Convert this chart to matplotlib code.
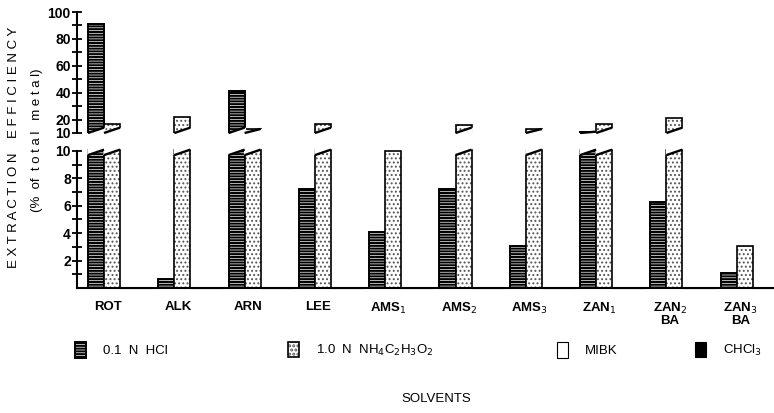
import matplotlib
matplotlib.use('Agg')
import matplotlib.pyplot as plt
from matplotlib.patches import Polygon
from matplotlib.legend_handler import HandlerTuple
import numpy as np

plt.rcParams['font.family'] = ['Liberation Sans', 'DejaVu Sans']
plt.rcParams['hatch.linewidth'] = 1.5

categories = ['ROT', 'ALK', 'ARN', 'LEE', 'AMS$_1$', 'AMS$_2$', 'AMS$_3$',
              'ZAN$_1$', 'ZAN$_2$\nBA', 'ZAN$_3$\nBA']
hcl   = [91, 0.65, 41, 7.2, 4.1, 7.2, 3.1, 11, 6.3, 1.1]
nh4ac = [17, 22, 13, 17, 10, 16, 13, 17, 21, 3.1]
mibk  = [0, 0, 0, 0, 0, 0, 0, 0, 0, 0]
chcl3 = [0, 0, 0, 0, 0, 0, 0, 0, 0, 0]

labels = ['0.1  N  HCl', '1.0  N  NH$_4$C$_2$H$_3$O$_2$', 'MIBK', 'CHCl$_3$']

BREAK = 10
W = 0.228
x = np.arange(len(categories))

fig = plt.figure(figsize=(7.74, 4.13), dpi=100)
ax_hi = fig.add_axes([77/774, 1 - 133/413, 696/774, 121/413])
ax_lo = fig.add_axes([77/774, 1 - 288/413, 696/774, 137/413])

# each series: list of layers (fill layer, outline layer)
styles = [
    [dict(facecolor='white', edgecolor='black', hatch='------', linewidth=1.4)],
    [dict(facecolor='white', edgecolor='#555555', hatch='....', linewidth=0, hlw=0.9),
     dict(fill=False, edgecolor='black', linewidth=1.2)],
    [dict(facecolor='white', edgecolor='black', linewidth=0.8)],
    [dict(facecolor='black', edgecolor='black', linewidth=0.8)],
]
series = [hcl, nh4ac, mibk, chcl3]
offsets = [-0.5, 0.5, 1.5, 2.5]


def draw_bars(ax, xs, hs, layers, **kw):
    out = []
    for st in layers:
        st = dict(st)
        hlw = st.pop('hlw', None)
        bars = ax.bar(xs, hs, W, **st, **kw)
        if hlw is not None:
            for b in bars:
                if hasattr(b, 'set_hatch_linewidth'):
                    b.set_hatch_linewidth(hlw)
        out.append(bars)
    return out


handles = []
for vals, layers, off in zip(series, styles, offsets):
    vals = np.asarray(vals, dtype=float)
    lo_h = np.where(vals > BREAK, BREAK + 0.1, vals)
    drawn = draw_bars(ax_lo, x + off * W, lo_h, layers, zorder=2, clip_on=False)
    handles.append(tuple(drawn) if len(drawn) > 1 else drawn[0])
    # slanted cut at top of bars that continue in the upper panel
    for b, v in zip(drawn[0], vals):
        if v > BREAK:
            x0, w = b.get_x(), b.get_width()
            ax_lo.add_patch(Polygon([(x0 - 0.01, BREAK - 0.3), (x0 - 0.01, BREAK + 0.2),
                                     (x0 + w + 0.01, BREAK + 0.2), (x0 + w, BREAK + 0.1)],
                                    closed=True, facecolor='white', edgecolor='none',
                                    zorder=3, clip_on=False))
            ax_lo.plot([x0, x0 + w], [BREAK - 0.3, BREAK + 0.1], color='black',
                       lw=1.7, zorder=4, clip_on=False, solid_capstyle='butt')
    hi = vals > BREAK
    if hi.any():
        hdrawn = draw_bars(ax_hi, (x + off * W)[hi], vals[hi] - BREAK, layers,
                           bottom=BREAK, zorder=2)
        for b, v in zip(hdrawn[0], vals[hi]):
            x0, w = b.get_x(), b.get_width()
            r = min(4.0, v - BREAK)
            ax_hi.add_patch(Polygon([(x0 - 0.01, BREAK - 1), (x0 + w + 0.02, BREAK - 1),
                                     (x0 + w + 0.02, BREAK + r), (x0, BREAK)],
                                    closed=True, facecolor='white', edgecolor='none',
                                    zorder=3, clip_on=False))
            ax_hi.plot([x0, x0 + w], [BREAK, BREAK + r], color='black', lw=1.7,
                       zorder=4, clip_on=False, solid_capstyle='butt')

xlim = (-0.384, 9.516)
for ax in (ax_hi, ax_lo):
    ax.set_xlim(*xlim)
    ax.spines['top'].set_visible(False)
    ax.spines['right'].set_visible(False)
    ax.spines['left'].set_linewidth(1.5)
    ax.tick_params(axis='y', direction='inout', length=7, width=1.3,
                   labelsize=10, pad=1)

ax_hi.spines['bottom'].set_visible(False)
ax_hi.set_ylim(BREAK, 100)
ax_hi.set_xticks([])
ax_hi.set_yticks(np.arange(10, 101, 10))
ax_hi.set_yticklabels(['10', '20', '', '40', '', '60', '', '80', '', '100'],
                      fontweight='bold')

ax_lo.set_ylim(0, BREAK)
ax_lo.spines['bottom'].set_linewidth(1.5)
ax_lo.set_yticks(np.arange(1, 11))
ax_lo.set_yticklabels(['', '2', '', '4', '', '6', '', '8', '', '10'], fontweight='bold')
ax_lo.set_xticks(x + 0.05)
ax_lo.set_xticklabels(categories, fontweight='bold', fontsize=9.5, va='top',
                      linespacing=0.9)
ax_lo.tick_params(axis='x', length=0, pad=9)

fig.text(14/774, 1 - 147/413, 'E X T R A C T I O N    E F F I C I E N C Y',
         rotation=90, ha='center', va='center', fontsize=9.5, fontweight='medium')
fig.text(37/774, 1 - 140/413, '(%  of  t o t a l   m e t a l)',
         rotation=90, ha='center', va='center', fontsize=9.5)

for h, lab, xp in zip(handles, labels, [75, 288, 557, 695]):
    fig.legend(handles=[h], labels=[lab], loc='center left',
               bbox_to_anchor=(xp/774, 1 - 350/413), frameon=False,
               borderpad=0, borderaxespad=0, handlelength=0.8, handleheight=1.4,
               handletextpad=1.3, fontsize=9.5,
               handler_map={tuple: HandlerTuple(ndivide=1, pad=0)})

fig.text(436/774, 1 - 399/413, 'SOLVENTS', ha='center', va='center', fontsize=9.5)

fig.savefig('out.png', dpi=100)
